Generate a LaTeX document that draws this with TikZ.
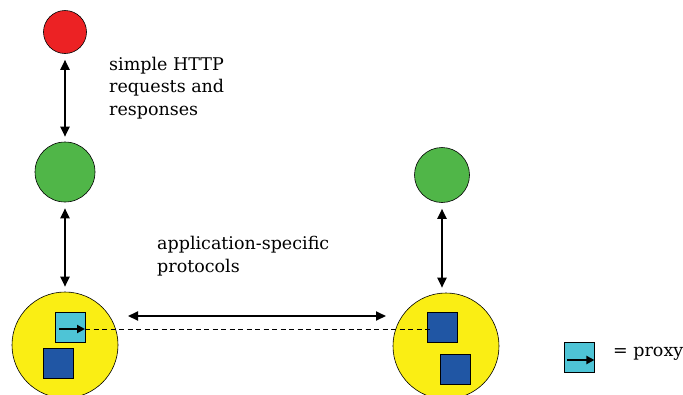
\documentclass[tikz,border=0pt]{standalone}
\usepackage{fontspec}
\setmainfont{DejaVu Serif}
\usetikzlibrary{arrows.meta}
\definecolor{hostred}{RGB}{236,34,36}
\definecolor{hostgreen}{RGB}{80,182,72}
\definecolor{siteyellow}{RGB}{250,238,20}
\definecolor{proxycyan}{RGB}{78,196,214}
\definecolor{objblue}{RGB}{32,86,164}
\tikzset{
  host/.style={circle, draw=black, line width=0.6pt, inner sep=0pt, minimum size=#1},
  site/.style={circle, draw=black, line width=0.6pt, fill=siteyellow, inner sep=0pt, minimum size=106pt},
  obj/.style={rectangle, draw=black, line width=0.8pt, fill=objblue, inner sep=0pt, minimum size=30pt},
  proxybox/.style={rectangle, draw=black, line width=0.8pt, fill=proxycyan, inner sep=0pt, minimum size=30pt},
  link/.style={line width=2pt, {Triangle[length=10pt,width=9pt]}-{Triangle[length=10pt,width=9pt]},
    shorten <=6pt, shorten >=5pt},
  ref/.style={line width=2pt, -{Triangle[length=8pt,width=8pt]}},
  lbl/.style={font=\fontsize{17.5}{22.5}\selectfont, align=left, inner sep=0pt, anchor=north west}
}
\begin{document}
\begin{tikzpicture}[x=1pt,y=-1pt]
\useasboundingbox (0,0) rectangle (683,394);
% hosts
\node[host=43pt, fill=hostred] (client) at (65,32) {};
\node[host=60pt, fill=hostgreen] (webL) at (65,172) {};
\node[host=55pt, fill=hostgreen] (webR) at (442,175) {};
% sites with their objects
\node[site] (siteL) at (65,345) {};
\node[site] (siteR) at (446,346) {};
\node[proxybox] (px) at (70,327) {};
\node[obj] (objL) at (58,363) {};
\node[obj] (objR1) at (442,327) {};
\node[obj] (objR2) at (455,369) {};
% vertical links
\draw[link] (client.south) -- (webL.north);
\draw[link] (webL.south) -- (siteL.north);
\draw[link] (webR.south) -- (siteR.north -| webR.south);
% protocol link between sites
\coordinate (pL) at (128,316);
\coordinate (pR) at (386,316);
\draw[link, shorten <=0pt, shorten >=0pt] (pL) -- (pR);
% proxy reference to remote object
\coordinate (pxIn) at (59,329);
\coordinate (pxOut) at (85,329);
\coordinate (objIn) at (432,329);
\draw[ref] (pxIn) -- (pxOut);
\draw[dashed, line width=0.9pt, dash pattern=on 5pt off 3.5pt] (pxOut) -- (objIn);
% labels
\node[lbl] (httpTxt) at (109,57) {simple HTTP\\requests and\\responses};
\node[lbl] (protoTxt) at (157,236) {application-specific\\protocols};
% legend
\node[proxybox] (legBox) at (579,357) {};
\coordinate (legIn) at (567,360);
\draw[ref] (legIn) -- (legBox.east |- legIn);
\node[font=\fontsize{17.5}{22.5}\selectfont, anchor=west, inner sep=0pt] (legTxt) at (613,354) {= proxy};
\end{tikzpicture}
\end{document}
